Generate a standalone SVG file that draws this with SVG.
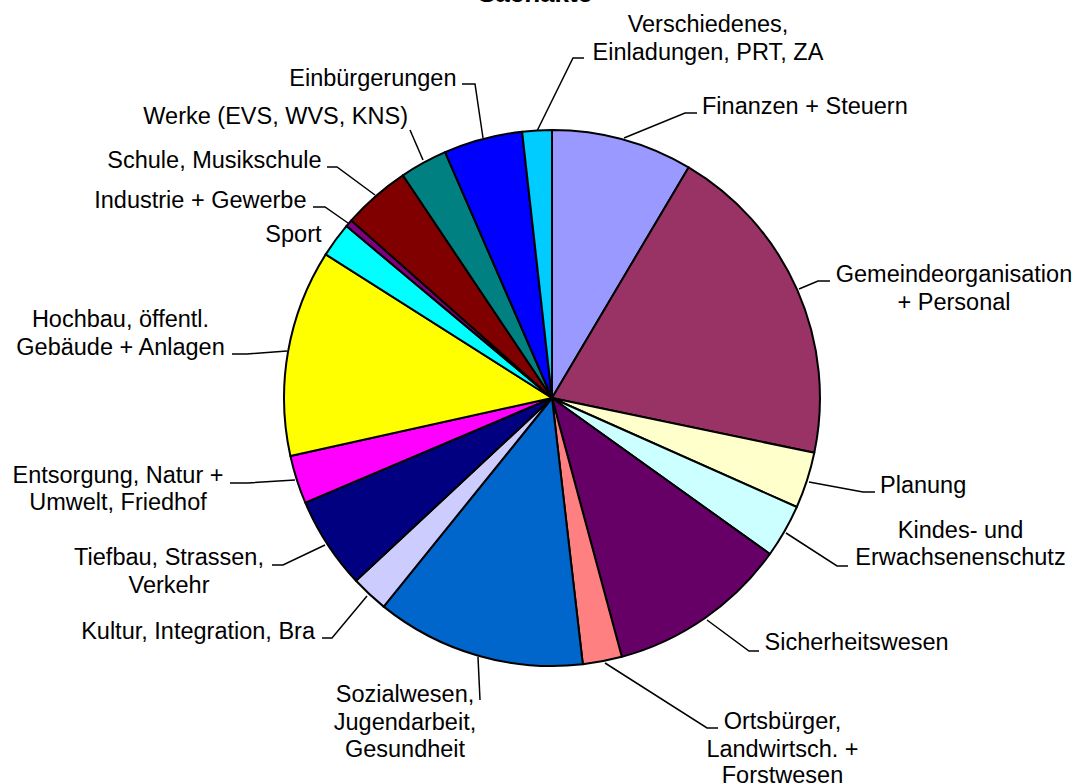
<svg xmlns="http://www.w3.org/2000/svg" width="1077" height="784" viewBox="0 0 1077 784">
<style>
.s{stroke:#000;stroke-width:2;stroke-linejoin:round}
.t{font-family:"Liberation Sans",Arial,sans-serif;font-size:23.5px;fill:#000}
.m{text-anchor:middle}
.e{text-anchor:end}
.l{fill:none;stroke:#000;stroke-width:1.5}
.title{font-family:"Liberation Sans",Arial,sans-serif;font-size:26px;font-weight:bold;fill:#000;text-anchor:middle}
</style>
<rect width="1077" height="784" fill="#fff"/>
<text class="title" x="535" y="1.5">Sachakte</text>
<g id="connectors">
<polyline class="l" points="537,131 573,58 584,58"/>
<polyline class="l" points="624,138 685,113 697,113"/>
<polyline class="l" points="799,289 818,281 830,281"/>
<polyline class="l" points="809,482 863,492 875,492"/>
<polyline class="l" points="786,533 837,566 848,566"/>
<polyline class="l" points="707,620 749,651 759,651"/>
<polyline class="l" points="605,663 707,728 718,728"/>
<polyline class="l" points="478,657 480,700"/>
<polyline class="l" points="367,596 332,638 322,638"/>
<polyline class="l" points="325,545 283,565 272,565"/>
<polyline class="l" points="295,480 248,483 230,483"/>
<polyline class="l" points="287,351 247,354 232,354"/>
<polyline class="l" points="348,223 325,207 313,207"/>
<polyline class="l" points="375,195 337,167 327,167"/>
<polyline class="l" points="423,160 410,130"/>
<polyline class="l" points="483,138 475,84 462,84"/>
</g>
<g id="finanzen"><path class="s" fill="#9999FF" d="M552,398 L552,130 A268,268 0 0 1 688.6,167.4 Z"/><text class="t" x="702" y="113.5">Finanzen + Steuern</text></g>
<g id="gemeindeorganisation"><path class="s" fill="#993366" d="M552,398 L688.6,167.4 A268,268 0 0 1 814.3,452.8 Z"/><text class="t m" x="954" y="281.5">Gemeindeorganisation</text><text class="t m" x="954" y="310">+ Personal</text></g>
<g id="planung"><path class="s" fill="#FFFFCC" d="M552,398 L814.3,452.8 A268,268 0 0 1 796.8,507 Z"/><text class="t" x="880" y="492.5">Planung</text></g>
<g id="kindesschutz"><path class="s" fill="#CCFFFF" d="M552,398 L796.8,507 A268,268 0 0 1 769.9,554 Z"/><text class="t m" x="960.5" y="537.5">Kindes- und</text><text class="t m" x="960.5" y="565">Erwachsenenschutz</text></g>
<g id="sicherheitswesen"><path class="s" fill="#660066" d="M552,398 L769.9,554 A268,268 0 0 1 621.8,656.8 Z"/><text class="t" x="764.5" y="650">Sicherheitswesen</text></g>
<g id="ortsbuerger"><path class="s" fill="#FF8080" d="M552,398 L621.8,656.8 A268,268 0 0 1 582.8,664.2 Z"/><text class="t m" x="782.5" y="729">Ortsbürger,</text><text class="t m" x="782.5" y="756.5">Landwirtsch. +</text><text class="t m" x="782.5" y="782.5">Forstwesen</text></g>
<g id="sozialwesen"><path class="s" fill="#0066CC" d="M552,398 L582.8,664.2 A268,268 0 0 1 383.7,606.6 Z"/><text class="t m" x="405" y="702">Sozialwesen,</text><text class="t m" x="405" y="729.5">Jugendarbeit,</text><text class="t m" x="405" y="756.5">Gesundheit</text></g>
<g id="kultur"><path class="s" fill="#CCCCFF" d="M552,398 L383.7,606.6 A268,268 0 0 1 356,580.8 Z"/><text class="t e" x="315" y="639">Kultur, Integration, Bra</text></g>
<g id="tiefbau"><path class="s" fill="#000080" d="M552,398 L356,580.8 A268,268 0 0 1 305.3,502.7 Z"/><text class="t m" x="169" y="565">Tiefbau, Strassen,</text><text class="t m" x="169" y="592.5">Verkehr</text></g>
<g id="entsorgung"><path class="s" fill="#FF00FF" d="M552,398 L305.3,502.7 A268,268 0 0 1 290.4,456 Z"/><text class="t m" x="118" y="482.5">Entsorgung, Natur +</text><text class="t m" x="118" y="509.5">Umwelt, Friedhof</text></g>
<g id="hochbau"><path class="s" fill="#FFFF00" d="M552,398 L290.4,456 A268,268 0 0 1 325.7,254.4 Z"/><text class="t m" x="120.5" y="327">Hochbau, öffentl.</text><text class="t m" x="120.5" y="354.5">Gebäude + Anlagen</text></g>
<g id="sport"><path class="s" fill="#00FFFF" d="M552,398 L325.7,254.4 A268,268 0 0 1 346.4,226.1 Z"/><text class="t e" x="321.5" y="241.5">Sport</text></g>
<g id="industrie"><path class="s" fill="#800080" d="M552,398 L346.4,226.1 A268,268 0 0 1 351.3,220.4 Z"/><text class="t e" x="306.5" y="207.5">Industrie + Gewerbe</text></g>
<g id="schule"><path class="s" fill="#800000" d="M552,398 L351.3,220.4 A268,268 0 0 1 402.9,175.3 Z"/><text class="t e" x="321.5" y="167.5">Schule, Musikschule</text></g>
<g id="werke"><path class="s" fill="#008080" d="M552,398 L402.9,175.3 A268,268 0 0 1 445.1,152.2 Z"/><text class="t e" x="408" y="123.5">Werke (EVS, WVS, KNS)</text></g>
<g id="einbuergerungen"><path class="s" fill="#0000FF" d="M552,398 L445.1,152.2 A268,268 0 0 1 522.1,131.7 Z"/><text class="t e" x="456.5" y="86">Einbürgerungen</text></g>
<g id="verschiedenes"><path class="s" fill="#00CCFF" d="M552,398 L522.1,131.7 A268,268 0 0 1 552,130 Z"/><text class="t m" x="708" y="31.5">Verschiedenes,</text><text class="t m" x="708" y="59.5">Einladungen, PRT, ZA</text></g>
</svg>
